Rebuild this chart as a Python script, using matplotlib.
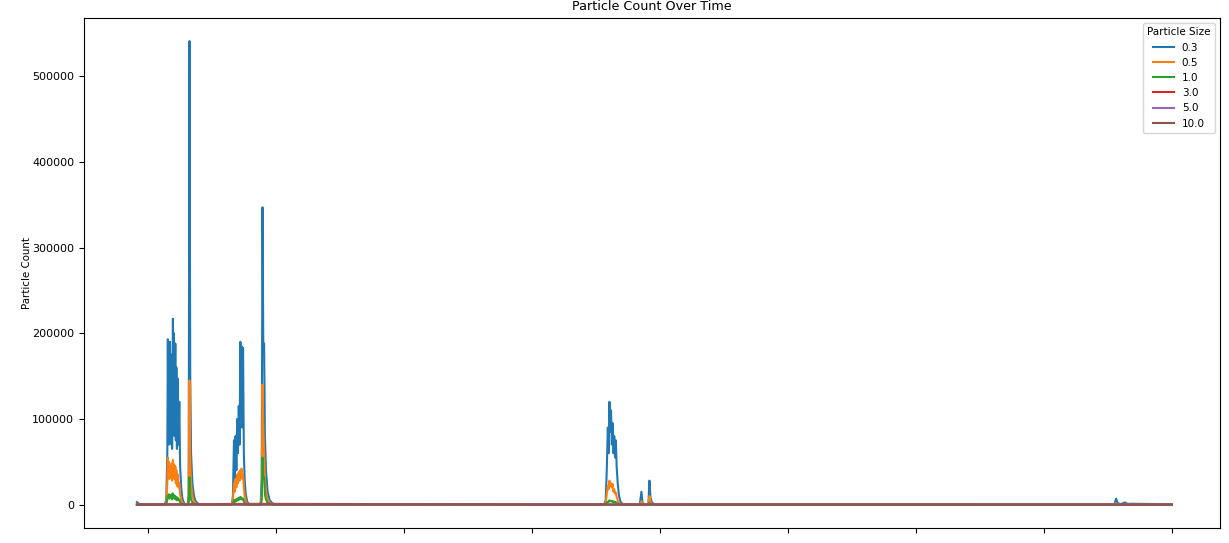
import numpy as np
import pandas as pd
import matplotlib
matplotlib.use('Agg')
import matplotlib.pyplot as plt
import matplotlib.dates as mdates
from matplotlib.ticker import NullFormatter

start_time = '2024-03-04 21:56'
x_range = ('2024-03-04 12:00', '2024-03-13 09:00')
size_labels = ['0.3', '0.5', '1.0', '3.0', '5.0', '10.0']

# hours since the first reading
hours = [
    0.0, 0.3, 0.6, 1.0, 3.0, 5.2,
    # burst A
    5.5, 5.7, 5.8, 5.9, 6.0, 6.1, 6.2, 6.35, 6.5, 6.6, 6.75, 6.85, 6.95, 7.05,
    7.2, 7.3, 7.4, 7.5, 7.65, 7.8, 7.95, 8.1, 8.3, 8.5, 8.8, 9.1, 9.5,
    # big spike
    9.7, 9.85, 10.0, 10.15, 10.4, 10.7, 11.0, 11.5, 12.2, 15.0, 17.8,
    # burst B
    18.0, 18.2, 18.35, 18.5, 18.65, 18.8, 18.95, 19.1, 19.25, 19.4, 19.5, 19.6,
    19.75, 19.9, 20.05, 20.2, 20.4, 20.7, 21.0, 21.5, 23.2,
    # second spike
    23.4, 23.55, 23.7, 23.85, 24.0, 24.2, 24.5, 24.9, 25.4, 26.0, 27.0, 50.0, 87.6,
    # burst C
    87.9, 88.1, 88.3, 88.45, 88.6, 88.75, 88.9, 89.05, 89.2, 89.35, 89.5, 89.65,
    89.8, 89.95, 90.15, 90.4, 90.7, 91.1, 91.6,
    # small spikes
    94.3, 94.6, 94.8, 95.2, 95.9, 96.1, 96.3, 96.6, 97.2, 140.0,
    # late bump
    183.3, 183.6, 183.9, 184.4, 185.3, 185.7, 186.5, 190.0, 194.06,
]

size_03 = [
    3000, 1200, 500, 300, 200, 200,
    5000, 60000, 193000, 90000, 185000, 70000, 190000, 100000, 175000, 65000, 217000, 110000, 200000, 80000,
    188000, 75000, 160000, 65000, 147000, 70000, 120000, 45000, 20000, 8000, 2000, 300, 200,
    10000, 541000, 150000, 60000, 25000, 10000, 4000, 1000, 200, 200, 200,
    10000, 75000, 30000, 80000, 40000, 100000, 60000, 115000, 70000, 190000, 100000, 185000,
    90000, 183000, 60000, 30000, 12000, 3000, 500, 200, 200,
    30000, 347000, 180000, 188000, 80000, 40000, 15000, 5000, 1500, 200, 200, 200, 200,
    5000, 40000, 90000, 60000, 120000, 85000, 110000, 70000, 95000, 60000, 80000, 55000,
    75000, 45000, 25000, 10000, 3000, 500, 200,
    200, 15000, 2000, 200, 200, 28000, 8000, 2000, 200, 200,
    200, 7000, 2000, 500, 2500, 800, 1000, 800, 300,
]

size_05 = [
    1000, 400, 150, 100, 60, 60,
    2000, 25000, 55000, 40000, 50000, 30000, 45000, 35000, 48000, 28000, 52000, 38000, 47000, 30000,
    45000, 25000, 40000, 22000, 35000, 20000, 25000, 12000, 6000, 2500, 800, 100, 60,
    4000, 145000, 50000, 25000, 10000, 4000, 1500, 400, 60, 60, 60,
    5000, 25000, 15000, 30000, 20000, 35000, 25000, 38000, 28000, 40000, 32000, 42000,
    30000, 35000, 20000, 10000, 4000, 1000, 200, 60, 60,
    12000, 140000, 90000, 60000, 30000, 15000, 6000, 2000, 500, 100, 60, 60, 60,
    2000, 12000, 22000, 18000, 28000, 22000, 25000, 20000, 24000, 15000, 18000, 13000,
    14000, 9000, 5000, 2000, 800, 100, 60,
    60, 4000, 600, 60, 60, 10000, 3000, 700, 60, 60,
    60, 1500, 500, 100, 600, 200, 300, 200, 80,
]

size_10 = [
    200, 80, 30, 20, 10, 10,
    500, 6000, 10000, 8000, 12000, 7000, 11000, 9000, 12000, 6000, 13000, 9000, 11000, 7000,
    10000, 6000, 9000, 5000, 8000, 5000, 6000, 3000, 1500, 800, 200, 50, 10,
    1000, 32000, 12000, 6000, 2500, 1000, 400, 100, 10, 10, 10,
    1000, 5000, 3000, 6000, 4000, 7000, 5000, 8000, 6000, 9000, 7000, 8000,
    6000, 7000, 4000, 2000, 900, 200, 50, 10, 10,
    5000, 55000, 30000, 32000, 12000, 6000, 2000, 700, 200, 10, 10, 10, 10,
    400, 2000, 3500, 3000, 5000, 4000, 4500, 3500, 4000, 3000, 3500, 2500,
    2800, 2000, 1200, 500, 150, 10, 10,
    10, 800, 100, 10, 10, 2000, 600, 100, 10, 10,
    10, 300, 100, 10, 100, 50, 200, 150, 20,
]

# the larger sizes stay close to zero
coarse_hours = [0.0, 9.85, 23.55, 88.6, 194.06]
size_30 = [5, 600, 900, 150, 5]
size_50 = [0, 80, 120, 20, 0]
size_100 = [0, 20, 30, 5, 0]

assert len(hours) == len(size_03) == len(size_05) == len(size_10)

t0 = pd.Timestamp(start_time)
fine_t = t0 + pd.to_timedelta(hours, unit='h')
coarse_t = t0 + pd.to_timedelta(coarse_hours, unit='h')

fig = plt.figure(figsize=(12.29, 5.43), dpi=100)
ax = fig.add_axes([0.0683, 0.028, 0.9243, 0.939])

series = [(fine_t, size_03), (fine_t, size_05), (fine_t, size_10),
          (coarse_t, size_30), (coarse_t, size_50), (coarse_t, size_100)]
for (t, vals), lab in zip(series, size_labels):
    ax.plot(t, vals, label=lab, linewidth=1.5)

ax.set_xlim(pd.Timestamp(x_range[0]), pd.Timestamp(x_range[1]))
ax.set_title('Particle Count Over Time', fontsize=9.2)
ax.set_ylabel('Particle Count', fontsize=7.4, labelpad=0)
ax.tick_params(axis='both', labelsize=8)
ax.xaxis.set_major_locator(mdates.DayLocator())
ax.xaxis.set_major_formatter(NullFormatter())
ax.legend(title='Particle Size', loc='upper right', fontsize=7.5, title_fontsize=7.5)

fig.savefig('out.png', dpi=100)
